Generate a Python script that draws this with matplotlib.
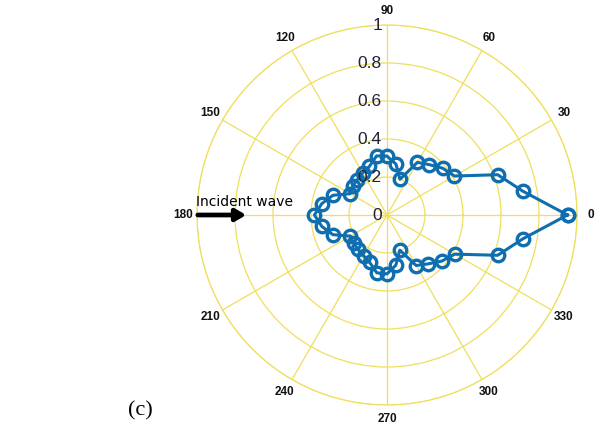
import numpy as np
import matplotlib
matplotlib.use("Agg")
import matplotlib.pyplot as plt
import matplotlib.transforms as mtrans

angles_deg = [0, 10, 20, 30, 40, 50, 60, 70, 80, 90, 100, 110, 120, 130, 140, 150, 160, 170,
              180, 190, 200, 210, 220, 230, 240, 250, 260, 270, 280, 290, 300, 310, 320, 330, 340, 350]
radii = [0.95, 0.725, 0.62, 0.41, 0.383, 0.346, 0.32, 0.20, 0.272, 0.31, 0.316, 0.272, 0.256, 0.243,
         0.236, 0.224, 0.303, 0.348, 0.382, 0.348, 0.303, 0.222, 0.23, 0.237, 0.247, 0.266, 0.309,
         0.31, 0.268, 0.197, 0.307, 0.336, 0.377, 0.412, 0.62, 0.725]
theta_ticks = [0, 30, 60, 90, 120, 150, 180, 210, 240, 270, 300, 330]
r_ticks = [0, 0.2, 0.4, 0.6, 0.8, 1.0]
r_labels = ["0", "0.2", "0.4", "0.6", "0.8", "1"]

W, H = 601, 434
fig = plt.figure(figsize=(W / 100, H / 100), dpi=100)
cx, cy, R = 387, 219, 190
ax = fig.add_axes([(cx - R) / W, (cy - R) / H, 2 * R / W, 2 * R / H], projection="polar")

grid_c = "#f0df5c"
ax.set_ylim(0, 1)
ax.set_xticks(np.deg2rad(theta_ticks))
ax.set_yticks(r_ticks[1:])
ax.set_xticklabels([])
ax.set_yticklabels([])
ax.grid(True, color=grid_c, lw=0.9)
ax.spines["polar"].set_color(grid_c)
ax.spines["polar"].set_linewidth(0.9)
ax.set_facecolor("white")

th = np.deg2rad(angles_deg + [angles_deg[0]])
rr = radii + [radii[0]]
ax.plot(th, rr, "-o", color="#0f6eb0", lw=2.2, markersize=9, markerfacecolor="none",
        markeredgewidth=2.4, clip_on=False, zorder=5)

for t in theta_ticks:
    ax.text(np.deg2rad(t), 1.075, str(t), ha="center", va="center", fontsize=8.5,
            fontweight="bold", family="Liberation Sans", color="#111111", clip_on=False)

off = mtrans.offset_copy(ax.transData, fig=fig, x=-5, y=0, units="dots")
for r, lab in zip(r_ticks, r_labels):
    ax.text(np.pi / 2, r, lab, transform=off, ha="right", va="center", fontsize=12.5,
            family="Liberation Sans", color="#222233", zorder=6, clip_on=False)

fig.text(196 / W, (H - 202) / H, "Incident wave", fontsize=10, ha="left", va="center",
         family="DejaVu Sans", color="black")
fig.add_artist(matplotlib.patches.FancyArrowPatch(
    (195 / W, (H - 215) / H), (249 / W, (H - 215) / H), transform=fig.transFigure,
    arrowstyle="-|>,head_length=6,head_width=3.5", mutation_scale=1, lw=3.4, color="black"))
fig.text(140 / W, (H - 411) / H, "(c)", fontsize=16, family="Liberation Serif",
         ha="center", va="center", color="black")

fig.savefig("out.png", dpi=100)
